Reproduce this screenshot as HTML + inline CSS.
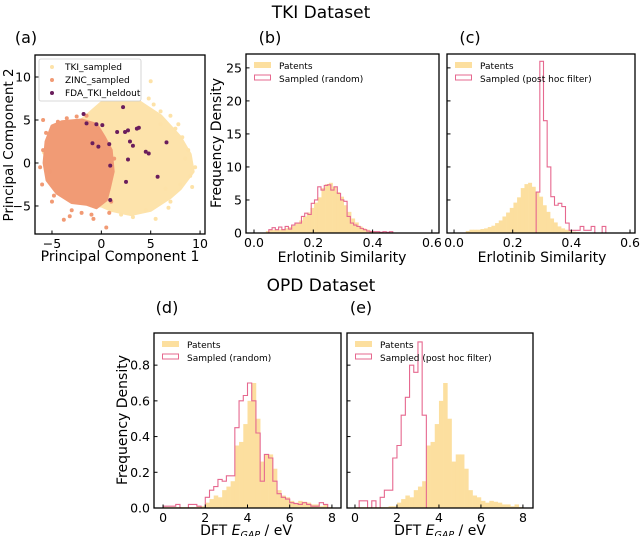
<!DOCTYPE html>
<html><head><meta charset="utf-8"><style>
body{margin:0;background:#fff;}
svg{display:block;font-family:"DejaVu Sans","Liberation Sans",sans-serif;}
</style></head><body>
<svg id="fig" width="640" height="536" viewBox="0 0 640 536"></svg>
<script>
// ---- data ----
const tkiPatStart=0.04;
const tkiPatVals=[0.3,0.5,0.5,0.5,0.6,0.7,0.9,1.1,1.5,1.9,2.5,3.1,3.8,4.6,5.4,6.8,7.4,7.6,7.0,6.2,5.5,4.2,3.2,2.2,1.6,1.0,0.7,0.5,0.3,0.2,0.15,0.1,0.05];
const tkiRandStart=0.05;
const tkiRandVals=[0.5,0.8,0.5,0.9,0.5,1.0,0.6,1.2,1.5,1.5,2.5,3.0,2.8,4.5,5.0,7.0,6.5,7.2,7.3,6.5,7.0,6.0,5.0,4.8,2.5,1.5,1.2,1.0,0.7,0.5,0.3,0.2,0.2,0.2,0.1,0.2,0.1,0.2];
const tkiPostStart=0.28;
const tkiPostVals=[6.2,26,17,10,5.5,4.2,4.5,4.0,1.5,0.4,0.4,0.4,1.0,0.4,0.4,1.0,0,0,1.0];
const opdPatStart=0;
const opdPatVals=[0.005,0.005,0.005,0.005,0.005,0.005,0.005,0.005,0.01,0.01,0.03,0.05,0.07,0.06,0.1,0.12,0.15,0.35,0.37,0.47,0.6,0.70,0.5,0.26,0.3,0.3,0.22,0.1,0.07,0.06,0.04,0.03,0.04,0.035,0.03,0.02,0.02,0.01,0.02,0.005];
const opdRandStart=0;
const opdRandVals=[0.01,0.01,0.01,0.02,0,0,0.02,0.02,0.01,0,0.06,0.1,0.12,0.16,0.15,0.18,0.18,0.45,0.6,0.63,0.7,0.6,0.42,0.15,0.3,0.28,0.15,0.08,0.06,0.05,0.03,0.025,0.02,0.03,0.02,0.01,0.01,0.03,0.02];
const opdPostStart=0;
const opdPostVals=[0,0.04,0.04,0,0.04,0,0.06,0.1,0.1,0.28,0.35,0.52,0.62,0.8,0.76,0.93,0.52];
const fdaX=[2.5,2.2,-1.8,-1.5,-0.5,0.1,1.6,2.4,2.7,3.6,3.8,-0.9,-0.3,0.8,2.9,3.2,4.5,4.8,6.6,2.7,0.9,5.7,2.5,0.9];
const fdaY=[7.6,6.5,5.7,4.6,4.5,4.4,3.6,3.6,3.8,4.0,4.1,2.3,1.9,2.2,2.5,2.0,1.3,1.1,2.4,0.4,-0.3,-1.6,-2.2,-4.3];
const tkiBlobX=[-2,-1,0,2,3,4,6,8,9,9.3,8,7,5,3,1,0,-1,-3,-4];
const tkiBlobY=[5,6,7,8.5,8,7,5.5,3,1,-1,-3,-4,-5.5,-6,-5.5,-5,-5,-2,2];
const zincBlobX=[-5.8,-5.6,-5,-4,-2,-0.5,0.3,1,1.2,0.8,0.5,-0.5,-1.5,-3,-4.5,-5.5];
const zincBlobY=[0,2.5,4.3,4.8,5.0,4.5,3,1.5,-1,-3,-4.3,-5.2,-4.8,-4.6,-3.5,-2];
const tkiPtsX=[-5.8,-3,-2.5,3,5,6,7,7.5,8.2,8.8,9.5,6.5,4.5,2,1,5.5,7,3.5,4.8,9,8,6,1.5,-1.2,3.2,5.3,8.5,7.8,9.2,6.8];
const tkiPtsY=[1.2,-3.5,-4,11,9.5,6,5.5,4,3,1.5,-0.5,-3,-5.5,-6,-5.5,-6.5,-4.5,8,7.5,-1.5,-2.5,4.5,8,-4.8,-6.3,6.8,0.5,4.5,-2.8,-5.2];
const zincPtsX=[-5.9,-5.6,-5.2,-4.8,-3.5,-2.5,-1.5,-0.8,0.5,1,1.3,-6.2,-5,-3.8,-2,-1,-0.2,-4.4,-3,-5.9,-6.0,-3.2,0.8];
const zincPtsY=[5,3.5,-1,-3.8,5.2,5.4,5.5,-6.5,-7.5,-4.5,0.5,-0.5,-4.5,-6.6,-5.8,-6,2.5,4.8,-5.5,1.5,-2.5,-6.2,-5.8];

const NS="http://www.w3.org/2000/svg";
const svg=document.getElementById('fig');
function el(tag,attrs,parent,text){const e=document.createElementNS(NS,tag);for(const k in attrs)e.setAttribute(k,attrs[k]);if(text!==undefined)e.textContent=text;(parent||svg).appendChild(e);return e;}
function mkAxes(c){c.sx=v=>c.l+(v-c.xmin)/(c.xmax-c.xmin)*(c.r-c.l);c.sy=v=>c.b-(v-c.ymin)/(c.ymax-c.ymin)*(c.b-c.t);return c;}

function txt(x,y,s,size,anchor,name,extra){const t=el('text',Object.assign({x:x,y:y,'font-size':size,'text-anchor':anchor||'middle',fill:'#000'},extra||{}),svg,s);return t;}

function frame(c,name){const r=el('rect',{x:c.l,y:c.t,width:c.r-c.l,height:c.b-c.t,fill:'none',stroke:'#000','stroke-width':1.3});}
function xticks(c,vals,labels,name){vals.forEach((v,i)=>{const x=c.sx(v);el('line',{x1:x,x2:x,y1:c.b,y2:c.b-3.5,stroke:'#000','stroke-width':1});txt(x,c.b+14,labels[i],12.5,'middle',name+'-xtick-label');});}
function yticks(c,vals,labels,name){vals.forEach((v,i)=>{const y=c.sy(v);el('line',{x1:c.l,x2:c.l+3.5,y1:y,y2:y,stroke:'#000','stroke-width':1});if(labels)txt(c.l-4,y+4.5,labels[i],12.5,'end',name+'-ytick-label');});}

function barsFill(c,start,width,vals,name){const g=el('g',{});
 vals.forEach((v,i)=>{const x0=c.sx(start+i*width),x1=c.sx(start+(i+1)*width);const r=el('rect',{x:x0,y:c.sy(v),width:Math.max(0,x1-x0+0.3),height:c.sy(0)-c.sy(v),fill:'#fcdf9f'},g);});}
function stepLine(c,start,width,vals,name){let d='M'+c.sx(start)+','+c.sy(0);vals.forEach((v,i)=>{const x0=c.sx(start+i*width),x1=c.sx(start+(i+1)*width);d+=' L'+x0+','+c.sy(v)+' L'+x1+','+c.sy(v);});d+=' L'+c.sx(start+vals.length*width)+','+c.sy(0);
 const p=el('path',{d:d,fill:'none',stroke:'#e6688f','stroke-width':1.1});}

function histLegend(c,label2,name){const g=el('g',{});
 el('rect',{x:c.l+8,y:c.t+8,width:17,height:6,fill:'#fcdf9f'},g);
 el('text',{x:c.l+33,y:c.t+15,'font-size':9},g,'Patents');
 el('rect',{x:c.l+8.5,y:c.t+21,width:16,height:5,fill:'none',stroke:'#e6688f','stroke-width':1},g);
 el('text',{x:c.l+33,y:c.t+28,'font-size':9},g,label2);}

// titles
txt(321,18,'TKI Dataset',17,'middle','tki-title');
txt(321,291,'OPD Dataset',17,'middle','opd-title');
txt(26,43,'(a)',16,'middle','panel-a-label');
txt(270,43,'(b)',16,'middle','panel-b-label');
txt(470,43,'(c)',16,'middle','panel-c-label');
txt(167,313,'(d)',16,'middle','panel-d-label');
txt(361,313,'(e)',16,'middle','panel-e-label');

// ---- panel a ----
const A=mkAxes({l:35,r:205,t:55,b:234,xmin:-6.72,xmax:10.5,ymin:-8.26,ymax:12.56});
const ga=el('g',{});
const blob=(xs,ys,fill,nm)=>{const p=el('polygon',{points:xs.map((x,i)=>A.sx(x)+','+A.sy(ys[i])).join(' '),fill:fill,stroke:fill,'stroke-width':3,'stroke-linejoin':'round'},ga);};
blob(tkiBlobX,tkiBlobY,'#fde3ab','tki-sampled-cloud');
tkiPtsX.forEach((x,i)=>{const c=el('circle',{cx:A.sx(x),cy:A.sy(tkiPtsY[i]),r:2,fill:'#fde2a8'},ga);});
blob(zincBlobX,zincBlobY,'#f19b75','zinc-sampled-cloud');
zincPtsX.forEach((x,i)=>{const c=el('circle',{cx:A.sx(x),cy:A.sy(zincPtsY[i]),r:2,fill:'#f19a74'},ga);});
fdaX.forEach((x,i)=>{const c=el('circle',{cx:A.sx(x),cy:A.sy(fdaY[i]),r:2,fill:'#6a1d5c'},ga);});
frame(A,'pca');
xticks(A,[-5,0,5,10],['\u22125','0','5','10'],'pca');
yticks(A,[-5,0,5,10],['\u22125','0','5','10'],'pca');
txt(120,261,'Principal Component 1',14,'middle','pca-x-axis-title');
txt(13,145,'Principal Component 2',13.5,'middle','pca-y-axis-title',{transform:'rotate(-90 13 145)'});
const la=el('g',{});
el('rect',{x:39,y:59,width:102,height:42,fill:'#fff',stroke:'#ccc','stroke-width':0.8,rx:2},la);
[['#fde2a8','TKI_sampled'],['#f19a74','ZINC_sampled'],['#6a1d5c','FDA_TKI_heldout']].forEach((e,i)=>{el('circle',{cx:52,cy:67+i*13,r:2,fill:e[0]},la);el('text',{x:65,y:70+i*13,'font-size':9},la,e[1]);});

// ---- panel b ----
const B=mkAxes({l:246,r:439,t:54,b:233,xmin:-0.027,xmax:0.624,ymin:0,ymax:27.1});
barsFill(B,tkiPatStart,0.0125,tkiPatVals,'b-patents-hist');
stepLine(B,tkiRandStart,0.011,tkiRandVals,'b-sampled-random-hist');
frame(B,'b');
xticks(B,[0,0.2,0.4,0.6],['0.0','0.2','0.4','0.6'],'b');
yticks(B,[0,5,10,15,20,25],['0','5','10','15','20','25'],'b');
histLegend(B,'Sampled (random)','b-legend');
txt(342,262,'Erlotinib Similarity',14,'middle','b-x-axis-title');
txt(221,143,'Frequency Density',14,'middle','b-y-axis-title',{transform:'rotate(-90 221 143)'});

// ---- panel c ----
const C=mkAxes({l:447,r:635,t:54,b:233,xmin:-0.024,xmax:0.617,ymin:0,ymax:27.1});
barsFill(C,tkiPatStart,0.0125,tkiPatVals,'c-patents-hist');
stepLine(C,tkiPostStart,0.0125,tkiPostVals,'c-sampled-posthoc-hist');
frame(C,'c');
xticks(C,[0,0.2,0.4,0.6],['0.0','0.2','0.4','0.6'],'c');
yticks(C,[0,5,10,15,20,25],null,'c');
histLegend(C,'Sampled (post hoc filter)','c-legend');
txt(542,262,'Erlotinib Similarity',14,'middle','c-x-axis-title');

// ---- panel d ----
const D=mkAxes({l:154,r:341,t:333,b:508,xmin:-0.43,xmax:8.43,ymin:0,ymax:0.98});
barsFill(D,opdPatStart,0.2,opdPatVals,'d-patents-hist');
stepLine(D,opdRandStart,0.2,opdRandVals,'d-sampled-random-hist');
frame(D,'d');
xticks(D,[0,2,4,6,8],['0','2','4','6','8'],'d');
yticks(D,[0,0.2,0.4,0.6,0.8],['0.0','0.2','0.4','0.6','0.8'],'d');
histLegend(D,'Sampled (random)','d-legend');
txt(246,535,'DFT E',14,'middle','d-x-axis-title').innerHTML='DFT <tspan font-style="italic">E</tspan><tspan font-style="italic" font-size="9.5" dy="3">GAP</tspan><tspan dy="-3"> / eV</tspan>';
txt(127,420,'Frequency Density',14,'middle','d-y-axis-title',{transform:'rotate(-90 127 420)'});

// ---- panel e ----
const E=mkAxes({l:347,r:533,t:333,b:508,xmin:-0.38,xmax:8.48,ymin:0,ymax:0.98});
barsFill(E,opdPatStart,0.2,opdPatVals,'e-patents-hist');
stepLine(E,opdPostStart,0.2,opdPostVals,'e-sampled-posthoc-hist');
frame(E,'e');
xticks(E,[0,2,4,6,8],['0','2','4','6','8'],'e');
yticks(E,[0,0.2,0.4,0.6,0.8],null,'e');
histLegend(E,'Sampled (post hoc filter)','e-legend');
txt(440,535,'DFT E',14,'middle','e-x-axis-title').innerHTML='DFT <tspan font-style="italic">E</tspan><tspan font-style="italic" font-size="9.5" dy="3">GAP</tspan><tspan dy="-3"> / eV</tspan>';
</script>
</body></html>
